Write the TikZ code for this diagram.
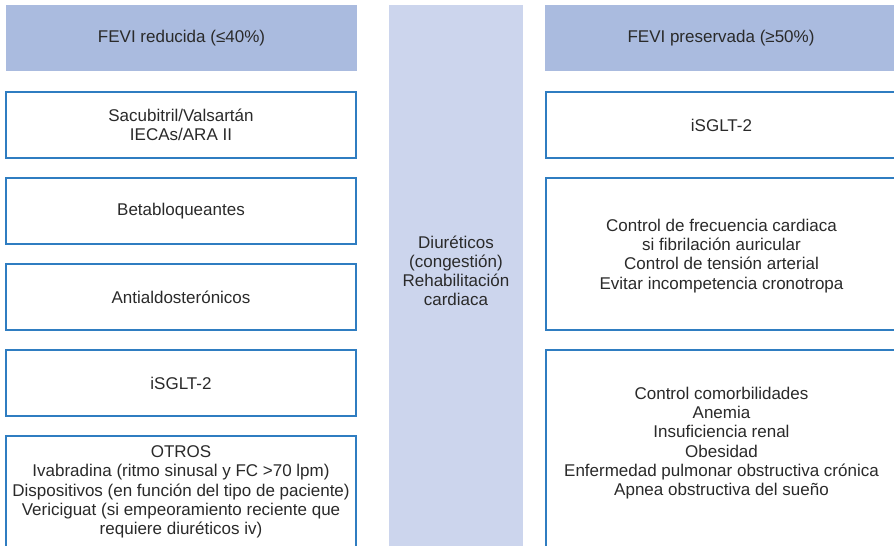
\documentclass[tikz,border=0pt]{standalone}
\usepackage{fontspec}
\setmainfont{Liberation Sans}
\definecolor{hdrblue}{HTML}{AABBDF}
\definecolor{colblue}{HTML}{CCD5ED}
\definecolor{boxblue}{HTML}{2F7DC1}
\definecolor{txt}{HTML}{2A2A2A}
\begin{document}
\begin{tikzpicture}[x=1pt,y=-1pt,
  font=\fontsize{17}{19.2}\selectfont,
  every node/.style={text=txt, align=center, inner sep=0pt},
  hdr/.style={fill=hdrblue, draw=none},
  col/.style={fill=colblue, draw=none},
  box/.style={draw=boxblue, line width=1.2pt, fill=white}]
\useasboundingbox (0,0) rectangle (894,546);
% headers
\node[hdr, minimum width=351pt, minimum height=66pt] (hL) at (181.5,38) {FEVI reducida (≤40\%)};
\node[hdr, minimum width=352pt, minimum height=66pt] (hR) at (721,38) {FEVI preservada (≥50\%)};
% center column
\node[col, minimum width=134pt, minimum height=545pt] (cc) at (456,277.5) {};
\node (cct) at (456,271) {Diuréticos\\(congestión)\\Rehabilitación\\cardiaca};
% left boxes
\node[box, minimum width=350pt, minimum height=66pt] (l1) at (181,125) {Sacubitril/Valsartán\\IECAs/ARA II};
\node[box, minimum width=350pt, minimum height=66pt] (l2) at (181,211) {Betabloqueantes};
\node[box, minimum width=350pt, minimum height=66pt] (l3) at (181,297) {Antialdosterónicos};
\node[box, minimum width=350pt, minimum height=66pt] (l4) at (181,383) {iSGLT-2};
\node[box, minimum width=350pt, minimum height=112pt] (l5) at (181,492) {};
\node (l5t) at (181,492) {OTROS\\Ivabradina (ritmo sinusal y FC >70 lpm)\\Dispositivos (en función del tipo de paciente)\\Vericiguat (si empeoramiento reciente que\\requiere diuréticos iv)};
% right boxes
\node[box, minimum width=351pt, minimum height=66pt] (r1) at (721.5,125) {iSGLT-2};
\node[box, minimum width=351pt, minimum height=152pt] (r2) at (721.5,254) {};
\node (r2t) at (721.5,256) {Control de frecuencia cardiaca\\si fibrilación auricular\\Control de tensión arterial\\Evitar incompetencia cronotropa};
\node[box, minimum width=351pt, minimum height=210pt] (r3) at (721.5,455) {};
\node (r3t) at (721.5,443) {Control comorbilidades\\Anemia\\Insuficiencia renal\\Obesidad\\Enfermedad pulmonar obstructiva crónica\\Apnea obstructiva del sueño};
\end{tikzpicture}
\end{document}
